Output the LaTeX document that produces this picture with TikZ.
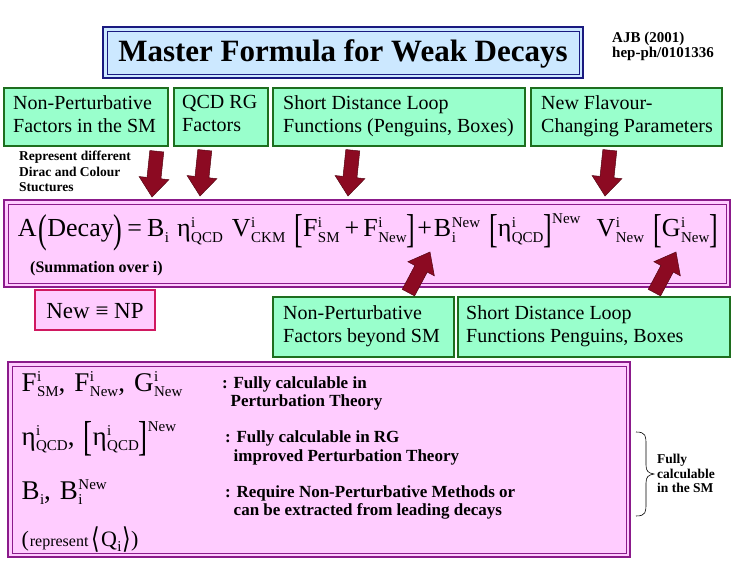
\documentclass[tikz,border=0pt]{standalone}
\usepackage{fontspec}
\usepackage{graphicx}
\setmainfont{Liberation Serif}
\newfontfamily\dvs{DejaVu Sans}
\definecolor{gfill}{HTML}{99FFCC}
\definecolor{gdraw}{HTML}{1E6E1E}
\definecolor{pfill}{HTML}{FFCCFF}
\definecolor{pdraw}{HTML}{8B1A8B}
\definecolor{bfill}{HTML}{CCE8FF}
\definecolor{bdraw}{HTML}{1A1A80}
\definecolor{arr}{HTML}{8C0A22}
\definecolor{npdraw}{HTML}{D01860}
\newcommand\subf{\fontsize{15}{15}\selectfont}
\newcommand\supsub[3]{#1{\subf\setbox0\hbox{#2}\setbox2\hbox{#3}\kern.5pt\raisebox{.62em}{\copy0}\kern-\wd0\raisebox{-.38em}{\copy2}\ifdim\wd0>\wd2\kern-\wd2\kern\wd0\fi}}
\newcommand\BB[1]{\raisebox{-.22em}{\scalebox{1}[1.55]{#1}}}
\tikzset{
 gboxd/.style={draw=gdraw,line width=2.5pt,fill=gfill},
 gtext/.style={font=\fontsize{20}{23}\selectfont,align=left,anchor=north west,inner sep=0pt},
 note/.style={font=\bfseries\fontsize{11}{12}\selectfont,align=left,anchor=north west,inner sep=0pt},
 barr/.style={fill=arr,draw=arr!60!black,line width=0.5pt},
}
% block arrow: tip at #1, pointing angle #2
\newcommand\barrow[2]{\begin{scope}[shift={#1},rotate=#2]
\draw[barr] (0,0) -- (-19,15) -- (-19,7) -- (-46,7) -- (-46,-7) -- (-19,-7) -- (-19,-15) -- cycle;
\end{scope}}
\begin{document}
\begin{tikzpicture}[x=1pt,y=-1pt]
\useasboundingbox (0,0) rectangle (738,564);
% title
\draw[bdraw,line width=2pt,fill=bfill] (103,27) rectangle (583,78);
\draw[bdraw,line width=0.8pt] (107,31) rectangle (579,74);
\node (title) at (343,54) {\bfseries\fontsize{31}{34}\selectfont Master Formula for Weak Decays};
\node[note,font=\bfseries\fontsize{15}{15}\selectfont] (ajb) at (612,32) {AJB (2001)\\hep-ph/0101336};
% green boxes
\draw[gboxd] (4,88) rectangle (168,146);
\node[gtext] (g1) at (13,95) {Non-Perturbative\\Factors in the SM};
\draw[gboxd] (174,88) rectangle (268,146);
\node[gtext] (g2) at (182,95) {QCD RG\\Factors};
\draw[gboxd] (273,88) rectangle (525,146);
\node[gtext] (g3) at (283,95) {Short Distance Loop\\Functions (Penguins, Boxes)};
\draw[gboxd] (531,88) rectangle (722,146);
\node[gtext] (g4) at (541,95) {New Flavour-\\Changing Parameters};
\node[note,font=\bfseries\fontsize{13.5}{15.5}\selectfont] (rep) at (19,151) {Represent different\\Dirac and Colour\\Stuctures};
% formula box
\draw[pdraw,line width=2.5pt,fill=pfill] (4,200) rectangle (730,287);
\draw[pdraw,line width=0.8pt] (8,204) rectangle (726,283);
\node (formula) at (368,232) {\fontsize{26}{28}\selectfont A\kern2pt\BB{(}Decay\BB{)}\kern5pt=\kern5pt\supsub{B}{}{i}\kern8pt\supsub{η}{i}{QCD}\kern9pt\supsub{V}{i}{CKM}\kern9pt\BB{[}\supsub{F}{i}{SM}\kern5pt+\kern4pt\supsub{F}{i}{New}\BB{]}\kern2pt+\kern2pt\supsub{B}{New}{i}\kern9pt\BB{[}\supsub{η}{i}{QCD}\BB{]}{\subf\raisebox{.9em}{New}}\kern16pt\supsub{V}{i}{New}\kern9pt\BB{[}\supsub{G}{i}{New}\BB{]}};
\node[note,font=\bfseries\fontsize{16}{18}\selectfont] (sum) at (30,261) {(Summation over i)};
% New = NP
\draw[npdraw,line width=2pt,fill=pfill] (35,290) rectangle (155,330);
\node (np) at (95,311) {\fontsize{23}{24}\selectfont New ≡ NP};
% lower green
\draw[gboxd] (273,297) rectangle (454,357);
\node[gtext] (g5) at (283,305) {Non-Perturbative\\Factors beyond SM};
\draw[gboxd] (458,297) rectangle (730,357);
\node[gtext] (g6) at (466,305) {Short Distance Loop\\Functions Penguins, Boxes};
% arrows
\barrow{(152,197)}{-96}
\barrow{(200,196)}{-96}
\barrow{(348,196)}{-96}
\barrow{(605,196)}{-96}
\barrow{(430,252)}{62}
\barrow{(676,252)}{62}
% bottom box
\draw[pdraw,line width=2.5pt,fill=pfill] (8,362) rectangle (630,557);
\draw[pdraw,line width=0.8pt] (12,366) rectangle (626,553);
\node[anchor=base west] (l1) at (18,391) {\fontsize{27}{29}\selectfont\supsub{F}{i}{SM},\kern9pt\supsub{F}{i}{New},\kern9pt\supsub{G}{i}{New}};
\node[note,font=\bfseries\fontsize{17}{18}\selectfont] (d1) at (222,377) {: Fully calculable in\\\ \ Perturbation Theory};
\node[anchor=base west] (l2) at (18,445) {\fontsize{27}{29}\selectfont\supsub{η}{i}{QCD},\kern9pt\BB{[}\supsub{η}{i}{QCD}\BB{]}{\subf\raisebox{.9em}{New}}};
\node[note,font=\bfseries\fontsize{17}{18}\selectfont] (d2) at (225,431) {: Fully calculable in RG\\\ \ improved Perturbation Theory};
\node[anchor=base west] (l3) at (18,499) {\fontsize{27}{29}\selectfont\supsub{B}{}{i},\kern9pt\supsub{B}{New}{i}};
\node[note,font=\bfseries\fontsize{17}{18}\selectfont] (d3) at (225,485) {: Require Non-Perturbative Methods or\\\ \ can be extracted from leading decays};
\node[anchor=base west] (l4) at (18,546) {\fontsize{22}{24}\selectfont(\kern1pt{\fontsize{16}{16}\selectfont represent}\kern3pt\raisebox{-.1em}{\scalebox{1}[1.3]{\dvs ⟨}}\kern1pt\supsub{Q}{}{i}\kern1pt\raisebox{-.1em}{\scalebox{1}[1.3]{\dvs ⟩}})};
\draw[line width=0.6pt] (636,432) .. controls (646,432) and (646,436) .. (646,445) -- (646,465) .. controls (646,471) and (648,473) .. (654,474) .. controls (648,475) and (646,477) .. (646,483) -- (646,503) .. controls (646,512) and (646,516) .. (636,516);
\node[note,font=\bfseries\fontsize{13.5}{14.5}\selectfont] (fc) at (657,454) {Fully\\calculable\\in the SM};
\end{tikzpicture}
\end{document}
